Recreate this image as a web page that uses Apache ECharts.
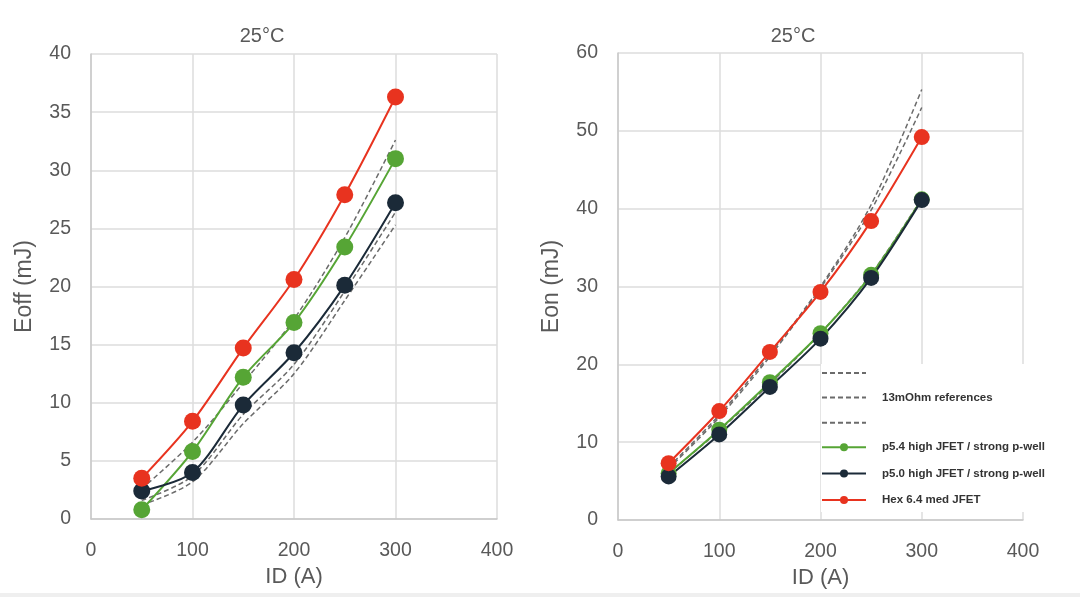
<!DOCTYPE html>
<html>
<head>
<meta charset="utf-8">
<script src="https://cdn.jsdelivr.net/npm/echarts@6/dist/echarts.min.js"></script>
<style>html,body{margin:0;padding:0;background:#fff}#c{width:1080px;height:597px}</style>
</head>
<body>
<div id="c"></div>
<script>
const xValues = [50, 100, 150, 200, 250, 300];
const xTicks = [0, 100, 200, 300, 400];
// Left chart: Eoff (mJ)
const eoffHex = [3.5, 8.4, 14.7, 20.6, 27.9, 36.3];
const eoffP54 = [0.8, 5.8, 12.2, 16.9, 23.4, 31.0];
const eoffP50 = [2.4, 4.0, 9.8, 14.3, 20.1, 27.2];
const eoffRef1 = [2.6, 6.6, 11.7, 17.2, 24.2, 32.6];
const eoffRef2 = [1.6, 3.7, 9.0, 13.3, 19.6, 26.4];
const eoffRef3 = [1.2, 3.2, 8.2, 12.5, 18.8, 25.3];
// Right chart: Eon (mJ)
const eonHex = [7.3, 14.0, 21.6, 29.3, 38.4, 49.2];
const eonP54 = [6.0, 11.6, 17.7, 24.0, 31.5, 41.2];
const eonP50 = [5.6, 11.0, 17.1, 23.3, 31.1, 41.1];
const eonRef1 = [6.8, 13.5, 21.3, 30.0, 40.5, 55.3];
const eonRef2 = [6.6, 13.2, 21.0, 29.8, 39.8, 53.0];
const eonRef3 = [6.0, 11.5, 17.5, 24.0, 31.6, 41.3];

const names = {
  ref1: '_ref1', ref2: '13mOhm references', ref3: '_ref3',
  p54: 'p5.4 high JFET / strong p-well',
  p50: 'p5.0 high JFET / strong p-well',
  hex: 'Hex 6.4 med JFET'
};
const colors = { p54: '#56a535', p50: '#1b2a38', hex: '#e8331f', ref: '#6b6b6b' };

const pair = ys => xValues.map((x, i) => [x, ys[i]]);
const FONT = 'Liberation Sans, Arial, sans-serif';
const txt = '#595959';

function refSeries(name, ys, idx) {
  return { name, type: 'line', xAxisIndex: idx, yAxisIndex: idx, data: pair(ys),
    smooth: 0.3, symbol: 'none', z: 2,
    lineStyle: { color: colors.ref, width: 1.5, type: [5, 3] },
    itemStyle: { color: colors.ref } };
}
function mainSeries(name, ys, idx, color, size) {
  return { name, type: 'line', xAxisIndex: idx, yAxisIndex: idx, data: pair(ys),
    smooth: 0.3, symbol: 'circle', symbolSize: size, z: 3,
    lineStyle: { color, width: 2 }, itemStyle: { color } };
}
function xAx(idx) {
  return { type: 'value', gridIndex: idx, min: 0, max: 400, interval: 100,
    name: 'ID (A)', nameLocation: 'middle', nameGap: 47,
    nameTextStyle: { fontSize: 22, color: txt, fontFamily: FONT },
    axisLine: { show: true, lineStyle: { color: '#c8c8c8', width: 1.5 } },
    axisTick: { show: false },
    axisLabel: { fontSize: 19.5, color: txt, fontFamily: FONT, margin: 22 },
    splitLine: { show: true, lineStyle: { color: '#dcdcdc', width: 1.5 } } };
}
function yAx(idx, max, interval, name) {
  return { type: 'value', gridIndex: idx, min: 0, max, interval,
    name, nameLocation: 'middle', nameGap: 55, nameRotate: 90,
    nameTextStyle: { fontSize: 23, color: txt, fontFamily: FONT },
    axisLine: { show: true, lineStyle: { color: '#c8c8c8', width: 1.5 } },
    axisTick: { show: false },
    axisLabel: { fontSize: 19.5, color: txt, fontFamily: FONT, margin: 20 },
    splitLine: { show: true, lineStyle: { color: '#dcdcdc', width: 1.5 } } };
}

const hidden = { opacity: 0, color: 'rgba(0,0,0,0)', borderWidth: 0 };
const chart = echarts.init(document.getElementById('c'), null, { renderer: 'canvas' });
chart.setOption({
  backgroundColor: '#fff',
  animation: false,
  title: [
    { text: '25°C', left: 257, top: 21, textAlign: 'center',
      textStyle: { fontSize: 20, fontWeight: 'normal', color: txt, fontFamily: FONT } },
    { text: '25°C', left: 788, top: 21, textAlign: 'center',
      textStyle: { fontSize: 20, fontWeight: 'normal', color: txt, fontFamily: FONT } }
  ],
  grid: [
    { left: 91, right: 583, top: 54, bottom: 78 },
    { left: 618, right: 57, top: 53, bottom: 77 }
  ],
  xAxis: [xAx(0), xAx(1)],
  yAxis: [yAx(0, 40, 5, 'Eoff (mJ)'), yAx(1, 60, 10, 'Eon (mJ)')],
  legend: {
    orient: 'vertical', left: 821, top: 364,
    data: [
      { name: names.ref1, itemStyle: hidden },
      { name: names.ref2, itemStyle: hidden },
      { name: names.ref3, itemStyle: hidden },
      names.p54, names.p50, names.hex
    ],
    itemWidth: 44, itemHeight: 10, itemGap: 14.4,
    backgroundColor: '#fff', padding: [4, 14, 6, 0],
    formatter: n => n.startsWith('_') ? '' : n,
    textStyle: { fontSize: 11.5, fontWeight: 'bold', color: '#333', fontFamily: FONT, padding: [0, 0, 0, 11] },
    selectedMode: false
  },
  series: [
    refSeries(names.ref1, eoffRef1, 0),
    refSeries(names.ref2, eoffRef2, 0),
    refSeries(names.ref3, eoffRef3, 0),
    mainSeries(names.p54, eoffP54, 0, colors.p54, 17),
    mainSeries(names.p50, eoffP50, 0, colors.p50, 17),
    mainSeries(names.hex, eoffHex, 0, colors.hex, 17),
    refSeries(names.ref1, eonRef1, 1),
    refSeries(names.ref2, eonRef2, 1),
    refSeries(names.ref3, eonRef3, 1),
    mainSeries(names.p54, eonP54, 1, colors.p54, 16),
    mainSeries(names.p50, eonP50, 1, colors.p50, 16),
    mainSeries(names.hex, eonHex, 1, colors.hex, 16)
  ],
  graphic: [
    { type: 'rect', shape: { x: 0, y: 593, width: 1080, height: 4 }, style: { fill: '#efefef' }, silent: true }
  ]
});
</script>
</body>
</html>
